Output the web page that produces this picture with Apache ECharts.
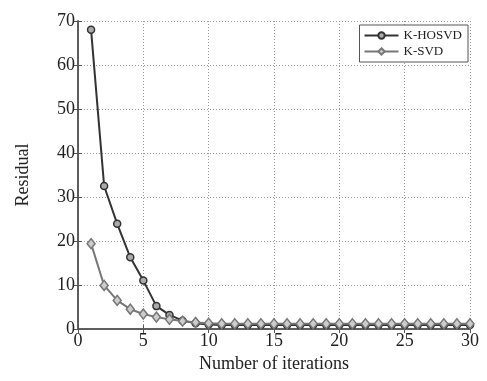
<!DOCTYPE html>
<html><head><meta charset="utf-8">
<script src="https://cdn.jsdelivr.net/npm/echarts@6/dist/echarts.min.js"></script>
<style>html,body{margin:0;padding:0;background:#fff}#c{width:487px;height:381px}</style>
</head><body><div id="c"></div>
<script>
const iterations = Array.from({length:30},(_, i)=>i+1);
const khosvd = [68,32.5,23.9,16.3,11.0,5.2,3.2,1.9,1.3,1.0,0.9,0.9,0.9,0.9,0.9,0.9,0.9,0.9,0.9,0.9,0.9,0.9,0.9,0.9,0.9,0.9,0.9,0.9,0.9,0.9];
const ksvd = [19.4,9.9,6.5,4.5,3.4,2.7,2.2,1.8,1.5,1.3,1.2,1.2,1.2,1.2,1.2,1.2,1.2,1.2,1.2,1.2,1.2,1.2,1.2,1.2,1.2,1.2,1.2,1.2,1.2,1.2];
const xTicks = [0,5,10,15,20,25,30];
const yTicks = [0,10,20,30,40,50,60,70];
const font = 'Liberation Serif';
const chart = echarts.init(document.getElementById('c'));
const axisLine = {show:true, lineStyle:{color:'#555', width:1.5}};
const split = {show:true, lineStyle:{color:'#999', type:[1,2], width:1}};
chart.setOption({
  animation:false,
  grid:{left:78, right:17, top:21, bottom:52},
  legend:{
    right:19, top:25, orient:'vertical', itemWidth:34, itemHeight:8, itemGap:3, itemStyle:{},
    borderColor:'#555', borderWidth:1, backgroundColor:'#fff', padding:[4,6,4,4],
    textStyle:{fontFamily:font, fontSize:13, color:'#222'},
    data:['K-HOSVD','K-SVD']
  },
  xAxis:[{
    type:'value', min:0, max:30, interval:5, position:'bottom',
    axisLine, axisTick:{show:true, inside:true, length:4, lineStyle:{color:'#555'}},
    axisLabel:{fontFamily:font, fontSize:18, color:'#222', margin:3, formatter:v=>xTicks.includes(v)?String(v):''},
    splitLine:split,
    name:'Number of iterations', nameLocation:'middle', nameGap:22,
    nameTextStyle:{fontFamily:font, fontSize:18, color:'#222'}
  },{
    type:'value', min:0, max:30, interval:5, position:'top',
    axisLine, axisTick:{show:true, inside:true, length:4, lineStyle:{color:'#555'}},
    axisLabel:{show:false}, splitLine:{show:false}
  }],
  yAxis:[{
    type:'value', min:0, max:70, interval:10, position:'left',
    axisLine, axisTick:{show:true, inside:true, length:4, lineStyle:{color:'#555'}},
    axisLabel:{fontFamily:font, fontSize:18, color:'#222', margin:3, formatter:v=>yTicks.includes(v)?String(v):''},
    splitLine:split,
    name:'Residual', nameLocation:'middle', nameGap:46,
    nameTextStyle:{fontFamily:font, fontSize:18, color:'#222'}
  },{
    type:'value', min:0, max:70, interval:10, position:'right',
    axisLine, axisTick:{show:true, inside:true, length:4, lineStyle:{color:'#555'}},
    axisLabel:{show:false}, splitLine:{show:false}
  }],
  series:[{
    name:'K-HOSVD', type:'line', data:iterations.map((x,i)=>[x,khosvd[i]]),
    symbol:'circle', symbolSize:7, showAllSymbol:true,
    lineStyle:{color:'#333', width:2}, itemStyle:{color:'#aaa', borderColor:'#333', borderWidth:1.5}
  },{
    name:'K-SVD', type:'line', data:iterations.map((x,i)=>[x,ksvd[i]]),
    symbol:'diamond', symbolSize:[8,10], showAllSymbol:true,
    lineStyle:{color:'#777', width:2}, itemStyle:{color:'#ccc', borderColor:'#777', borderWidth:1.5}
  }]
});
</script></body></html>
